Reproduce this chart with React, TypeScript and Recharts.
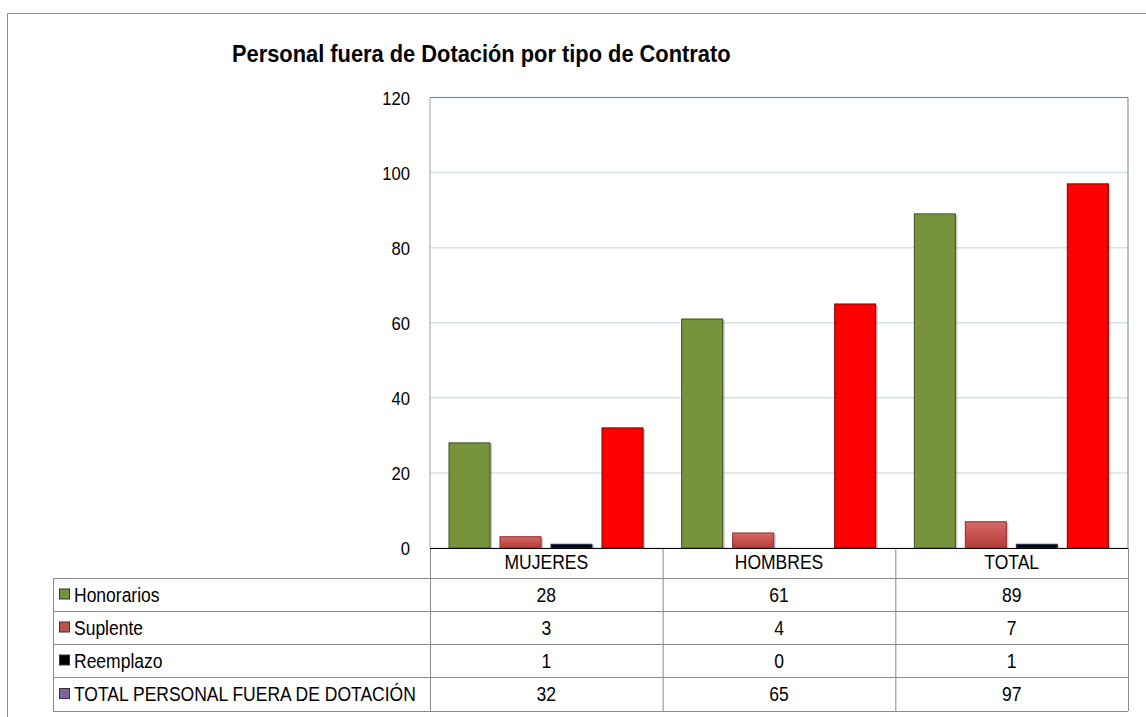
import React from 'react';
import { BarChart, Bar, XAxis, YAxis, CartesianGrid } from 'recharts';

const categories = ['MUJERES', 'HOMBRES', 'TOTAL'];
const honorarios = [28, 61, 89];
const suplente = [3, 4, 7];
const reemplazo = [1, 0, 1];
const totalFuera = [32, 65, 97];
const yTicks = [0, 20, 40, 60, 80, 100, 120];

const series = [
  { key: 'honorarios', name: 'Honorarios', values: honorarios, fill: '#77933C', stroke: '#3F4F1F', key_fill: '#77933C' },
  { key: 'suplente', name: 'Suplente', values: suplente, fill: 'url(#supGrad)', stroke: '#8C2E2C', key_fill: '#C0504D' },
  { key: 'reemplazo', name: 'Reemplazo', values: reemplazo, fill: '#000000', stroke: '#17375E', key_fill: '#000000' },
  { key: 'total', name: 'TOTAL PERSONAL FUERA DE DOTACIÓN', values: totalFuera, fill: '#FF0000', stroke: '#7A0000', key_fill: '#8064A2' },
];

const data = categories.map((c, i) => {
  const row: Record<string, string | number> = { name: c };
  series.forEach(s => { row[s.key] = s.values[i]; });
  return row;
});

// layout
const W = 1146;
const H = 717;
const PLOT_L = 430;
const PLOT_R = 1128;
const PLOT_T = 97.5;
const PLOT_B = 548;
const TABLE_L = 53;
const ROW_Y = [548, 578, 611, 644, 677, 711];
const FONT = "'Liberation Sans', Arial, sans-serif";
const LINE = '#8A8A8A';
const NARROW = 0.875;

// no Arial Narrow available, so squeeze a larger Liberation Sans
const NText = ({ x, y, anchor = 'start', size = 20, children }: any) => (
  <text
    transform={`translate(${x},${y}) scale(${NARROW},1)`}
    x={0}
    y={0}
    textAnchor={anchor}
    fontFamily={FONT}
    fontSize={size}
    fill="#000"
  >
    {children}
  </text>
);

const BarShape = (props: any) => {
  const { x, y, width, height, fill, stroke } = props;
  if (!height || height <= 0) return null;
  return (
    <g>
      <rect x={x + 2} y={y + 1} width={width} height={height - 1} fill="rgba(0,0,0,0.22)" />
      <rect x={x} y={y} width={width} height={height} fill={fill} stroke={stroke} strokeWidth={1} />
    </g>
  );
};

const CatTick = (props: any) => {
  const { x, payload } = props;
  return <NText x={x} y={PLOT_B + 21} anchor="middle">{payload.value}</NText>;
};

const ValTick = (props: any) => {
  const { x, y, payload } = props;
  return <NText x={x} y={y + 7} anchor="end" size={19}>{payload.value}</NText>;
};

const TableOverlay = () => {
  const colW = (PLOT_R - PLOT_L) / categories.length;
  const colX = categories.map((_, i) => PLOT_L + colW * i);
  return (
    <svg width={W} height={H} style={{ position: 'absolute', left: 0, top: 0, pointerEvents: 'none' }}>
      {/* outer chart frame */}
      <line x1={7.5} y1={13.5} x2={W} y2={13.5} stroke={LINE} />
      <line x1={7.5} y1={13.5} x2={7.5} y2={H} stroke={LINE} />
      {/* plot frame */}
      <line x1={PLOT_L} y1={PLOT_T} x2={PLOT_R} y2={PLOT_T} stroke="#7F7F7F" />
      <line x1={PLOT_R} y1={PLOT_T} x2={PLOT_R} y2={PLOT_B} stroke="#7F7F7F" />
      <line x1={PLOT_L} y1={PLOT_T} x2={PLOT_L} y2={PLOT_B} stroke="#A0A0A0" />
      {/* title */}
      <text
        transform={`translate(232,62) scale(0.91,1)`}
        fontFamily={FONT}
        fontWeight="bold"
        fontSize={24}
        fill="#000"
      >
        Personal fuera de Dotación por tipo de Contrato
      </text>
      {/* table horizontal lines */}
      {ROW_Y.slice(1).map(y => (
        <line key={y} x1={TABLE_L} y1={y + 0.5} x2={PLOT_R} y2={y + 0.5} stroke={LINE} />
      ))}
      {/* table vertical lines */}
      <line x1={TABLE_L + 0.5} y1={ROW_Y[1]} x2={TABLE_L + 0.5} y2={ROW_Y[5]} stroke={LINE} />
      {colX.map(x => (
        <line key={x} x1={x + 0.5} y1={PLOT_B} x2={x + 0.5} y2={ROW_Y[5]} stroke={LINE} />
      ))}
      <line x1={PLOT_R + 0.5} y1={PLOT_B} x2={PLOT_R + 0.5} y2={ROW_Y[5]} stroke={LINE} />
      <line x1={PLOT_L} y1={PLOT_B + 0.5} x2={PLOT_R} y2={PLOT_B + 0.5} stroke="#000" />
      {/* table rows */}
      {series.map((s, r) => {
        const cy = (ROW_Y[r + 1] + ROW_Y[r + 2]) / 2;
        return (
          <g key={s.key}>
            <rect x={59.5} y={cy - 5.5} width={10} height={10} fill={s.key_fill} stroke="#333" strokeWidth={1} />
            <NText x={74} y={cy + 7}>{s.name}</NText>
            {s.values.map((v, i) => (
              <NText key={i} x={colX[i] + colW / 2} y={cy + 7} anchor="middle">{v}</NText>
            ))}
          </g>
        );
      })}
    </svg>
  );
};

export default function App() {
  return (
    <div style={{ position: 'absolute', left: 0, top: 0, width: W, height: H, background: '#fff' }}>
      <BarChart
        width={W}
        height={H}
        data={data}
        margin={{ top: PLOT_T, right: W - PLOT_R, left: 0, bottom: 0 }}
        barCategoryGap={19}
        barGap={10}
      >
        <defs>
          <linearGradient id="supGrad" x1="0" y1="0" x2="0" y2="1">
            <stop offset="0%" stopColor="#D46A67" />
            <stop offset="100%" stopColor="#B53A37" />
          </linearGradient>
        </defs>
        <CartesianGrid horizontal vertical={false} stroke="#D6E2F1" strokeWidth={1.5} />
        <XAxis
          dataKey="name"
          height={H - PLOT_B}
          axisLine={false}
          tickLine={false}
          tick={<CatTick />}
        />
        <YAxis
          width={PLOT_L}
          domain={[0, 120]}
          ticks={yTicks}
          interval={0}
          axisLine={false}
          tickLine={false}
          tickSize={20}
          tickMargin={0}
          tick={<ValTick />}
        />
        {series.map(s => (
          <Bar
            key={s.key}
            dataKey={s.key}
            name={s.name}
            fill={s.fill}
            stroke={s.stroke}
            shape={<BarShape />}
            isAnimationActive={false}
          />
        ))}
      </BarChart>
      <TableOverlay />
    </div>
  );
}
